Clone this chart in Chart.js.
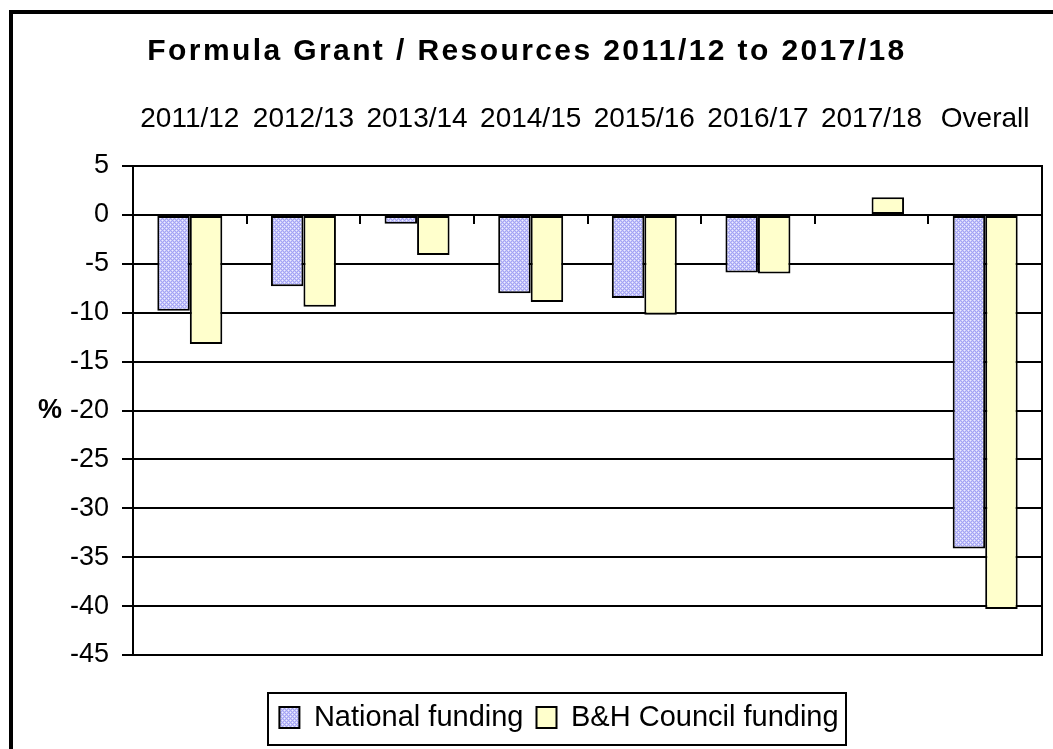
<!DOCTYPE html>
<html><head><meta charset="utf-8">
<script src="https://cdn.jsdelivr.net/npm/chart.js@4"></script>
<style>html,body{margin:0;padding:0;background:#fff;}#wrap{width:1053px;height:749px;position:relative;}</style>
</head><body><div id="wrap"><canvas id="c" width="1053" height="749"></canvas></div>
<script>
const categories = ['2011/12','2012/13','2013/14','2014/15','2015/16','2016/17','2017/18','Overall'];
const nationalFunding = [-9.8, -7.3, -0.9, -8.0, -8.5, -5.9, 0, -34.1];
const councilFunding = [-13.2, -9.4, -4.1, -8.9, -10.2, -6.0, 1.8, -40.3];
const seriesNames = ['National funding', 'B&H Council funding'];
const yMin = -45, yMax = 5, yStep = 5;
const titleText = 'Formula Grant / Resources 2011/12 to 2017/18';
const yAxisLabel = '%';

const FONT = 'Arial, "Liberation Sans", sans-serif';
const canvas = document.getElementById('c');
const mainCtx = canvas.getContext('2d');

function makePattern() {
  const t = document.createElement('canvas');
  t.width = 4; t.height = 4;
  const g = t.getContext('2d');
  g.fillStyle = '#eeeeff'; g.fillRect(0, 0, 4, 4);
  for (let x = 0; x < 4; x++) for (let y = 0; y < 4; y++) {
    if ((x + y) % 4 === 0 || (x - y + 4) % 4 === 0) { g.fillStyle = '#a4a4f4'; g.fillRect(x, y, 1, 1); }
    else if ((x + y) % 2 === 1) { g.fillStyle = '#c8c8fa'; g.fillRect(x, y, 1, 1); }
  }
  return mainCtx.createPattern(t, 'repeat');
}

const decor = {
  id: 'decor',
  afterLayout(chart) {
    const lg = chart.legend;
    if (lg) { lg.left += 76; }
  },
  beforeDraw(chart) {
    const ctx = chart.ctx;
    ctx.save();
    ctx.fillStyle = '#fff'; ctx.fillRect(0, 0, chart.width, chart.height);
    ctx.strokeStyle = '#000'; ctx.lineWidth = 4;
    ctx.strokeRect(11, 12, 1300, 1000);
    ctx.restore();
  },
  afterDatasetsDraw(chart) {
    const {ctx, chartArea: a, scales: {x, y}} = chart;
    const y0 = y.getPixelForValue(0);
    ctx.save();
    ctx.strokeStyle = '#000'; ctx.lineWidth = 2;
    ctx.beginPath();
    ctx.moveTo(a.left, y0); ctx.lineTo(a.right, y0);
    for (let i = 1; i < categories.length; i++) {
      const px = Math.round((x.getPixelForValue(i - 1) + x.getPixelForValue(i)) / 2);
      ctx.moveTo(px, y0); ctx.lineTo(px, y0 + 9);
    }
    ctx.stroke();
    ctx.strokeRect(a.left, a.top, a.right - a.left, a.bottom - a.top);
    ctx.restore();
  },
  afterDraw(chart) {
    const {ctx, scales: {y}} = chart;
    ctx.save();
    ctx.fillStyle = '#000';
    ctx.font = 'bold 30px ' + FONT;
    ctx.textAlign = 'center'; ctx.textBaseline = 'middle';
    ctx.letterSpacing = '2.4px';
    ctx.fillText(titleText, 527, 52);
    ctx.letterSpacing = '0px';
    ctx.font = 'bold 27px ' + FONT;
    ctx.textAlign = 'right';
    ctx.fillText(yAxisLabel, 62, y.getPixelForValue(-20));
    const hb = chart.legend.legendHitBoxes;
    if (hb && hb.length) {
      const l = Math.min(...hb.map(h => h.left));
      const r = Math.max(...hb.map(h => h.left + h.width));
      const cy = hb[0].top + hb[0].height / 2;
      ctx.strokeStyle = '#000'; ctx.lineWidth = 2;
      ctx.strokeRect(Math.round(l - 11), Math.round(cy - 25), Math.round(r - l + 19), 52);
    }
    ctx.restore();
  }
};

new Chart(canvas, {
  type: 'bar',
  data: {
    labels: categories,
    datasets: [
      { label: seriesNames[0], data: nationalFunding, backgroundColor: makePattern(), borderColor: '#000', borderWidth: 2, borderSkipped: false },
      { label: seriesNames[1], data: councilFunding, backgroundColor: '#ffffcc', borderColor: '#000', borderWidth: 2, borderSkipped: false }
    ]
  },
  options: {
    responsive: false,
    devicePixelRatio: 1,
    animation: false,
    layout: { padding: { left: 0, right: 11, top: 0, bottom: 7 } },
    datasets: { bar: { categoryPercentage: 0.572, barPercentage: 1 } },
    scales: {
      x: {
        type: 'category', position: 'top', offset: true,
        grid: { display: false, drawTicks: true, tickLength: 30 },
        border: { display: false },
        ticks: { color: '#000', font: { size: 28, family: FONT }, padding: 0, maxRotation: 0, autoSkip: false },
        afterFit(s) { s.height = 166; }
      },
      xb: {
        type: 'category', position: 'bottom', display: true,
        grid: { display: false, drawTicks: false },
        border: { display: false },
        ticks: { display: false, padding: 0 },
        afterFit(s) { s.height = 35; }
      },
      y: {
        min: yMin, max: yMax,
        ticks: { stepSize: yStep, color: '#000', font: { size: 27, family: FONT }, padding: 13 },
        grid: { color: '#000', lineWidth: 2, tickLength: 11, tickColor: '#000' },
        border: { color: '#000', width: 2 },
        afterFit(s) { s.width = 133; }
      }
    },
    plugins: {
      title: { display: false },
      tooltip: { enabled: false },
      legend: {
        position: 'bottom',
        labels: { color: '#000', font: { size: 29, family: FONT }, boxWidth: 20, boxHeight: 21, padding: 13 }
      }
    }
  },
  plugins: [decor]
});
</script>
</body></html>
